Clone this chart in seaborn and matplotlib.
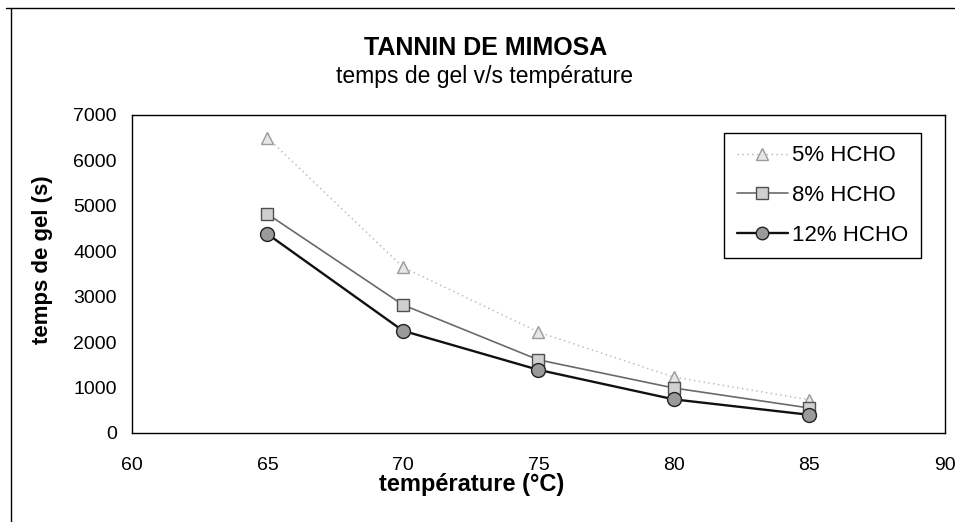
import matplotlib
matplotlib.use("Agg")
import matplotlib.pyplot as plt
import seaborn as sns
import pandas as pd
from matplotlib.lines import Line2D

# Gel time (s) of mimosa tannin against temperature for three formaldehyde levels
temperature = [65, 70, 75, 80, 85]
hcho_5 = [6500, 3650, 2220, 1230, 730]
hcho_8 = [4820, 2820, 1610, 990, 550]
hcho_12 = [4380, 2250, 1390, 740, 400]
series_labels = ["5% HCHO", "8% HCHO", "12% HCHO"]
x_ticks = [60, 65, 70, 75, 80, 85, 90]
y_ticks = [0, 1000, 2000, 3000, 4000, 5000, 6000, 7000]

df = pd.DataFrame({
    "température": temperature * 3,
    "temps": hcho_5 + hcho_8 + hcho_12,
    "série": [series_labels[0]] * 5 + [series_labels[1]] * 5 + [series_labels[2]] * 5,
})

sns.set_theme(style="white")
plt.rcParams["font.family"] = ["Liberation Sans", "DejaVu Sans"]
plt.rcParams["text.color"] = "black"
plt.rcParams["axes.labelcolor"] = "black"

fig = plt.figure(figsize=(9.55, 5.22), dpi=100)
ax = fig.add_axes([0.1382, 0.1705, 0.8513, 0.6092])

styles = {
    "5% HCHO": dict(color="#b4b4b4", marker="^", ls=(0, (1, 2.5)), lw=1.0,
                    mfc="#e6e6e6", mec="#9a9a9a", ms=9),
    "8% HCHO": dict(color="#6a6a6a", marker="s", ls="-", lw=1.2,
                    mfc="#d0d0d0", mec="#505050", ms=9),
    "12% HCHO": dict(color="#111111", marker="o", ls="-", lw=1.7,
                     mfc="#9a9a9a", mec="#222222", ms=10),
}

for name in series_labels:
    st = styles[name]
    sub = df[df["série"] == name]
    sns.lineplot(data=sub, x="température", y="temps", ax=ax,
                 color=st["color"], marker=st["marker"], linestyle=st["ls"],
                 linewidth=st["lw"], markerfacecolor=st["mfc"],
                 markeredgecolor=st["mec"], markersize=st["ms"],
                 markeredgewidth=1.0, legend=False)

ax.set_xlim(60, 90)
ax.set_ylim(0, 7000)
ax.set_xticks(x_ticks)
ax.set_yticks(y_ticks)
ax.tick_params(axis="both", which="both", direction="out", length=5, width=1,
               colors="black", labelsize=14, pad=6)
ax.tick_params(axis="x", pad=12)
for s in ax.spines.values():
    s.set_visible(True)
    s.set_color("black")
    s.set_linewidth(1.0)

ax.set_xlabel("")
ax.set_ylabel("")
fig.text(0.044, 0.502, "temps de gel (s)", ha="center", va="center",
         rotation=90, fontsize=16, fontweight="bold")
fig.text(0.494, 0.071, "température (°C)", ha="center", va="center",
         fontsize=17, fontweight="bold")

fig.text(0.508, 0.909, "TANNIN DE MIMOSA", ha="center", va="center",
         fontsize=18, fontweight="bold")
fig.text(0.507, 0.853, "temps de gel v/s température", ha="center",
         va="center", fontsize=16.5)

handles = []
for name in series_labels:
    st = styles[name]
    handles.append(Line2D([0], [0], color=st["color"], marker=st["marker"],
                          linestyle=st["ls"], linewidth=st["lw"],
                          markerfacecolor=st["mfc"], markeredgecolor=st["mec"],
                          markersize=st["ms"] - 1))
leg = ax.legend(handles, series_labels, loc="upper right",
                bbox_to_anchor=(0.970, 0.943), fontsize=16, frameon=True,
                fancybox=False, edgecolor="black", framealpha=1,
                handlelength=2.3, handletextpad=0.2, labelspacing=0.84,
                borderpad=0.55, borderaxespad=0)
leg.get_frame().set_linewidth(1.0)

# Outer chart frame (top and left edges)
fig.add_artist(Line2D([0.006, 0.999], [0.985, 0.985], color="black", lw=1.0,
                      transform=fig.transFigure))
fig.add_artist(Line2D([0.011, 0.011], [0.0, 0.985], color="black", lw=1.0,
                      transform=fig.transFigure))

fig.savefig("out.png", dpi=100, facecolor="white")
